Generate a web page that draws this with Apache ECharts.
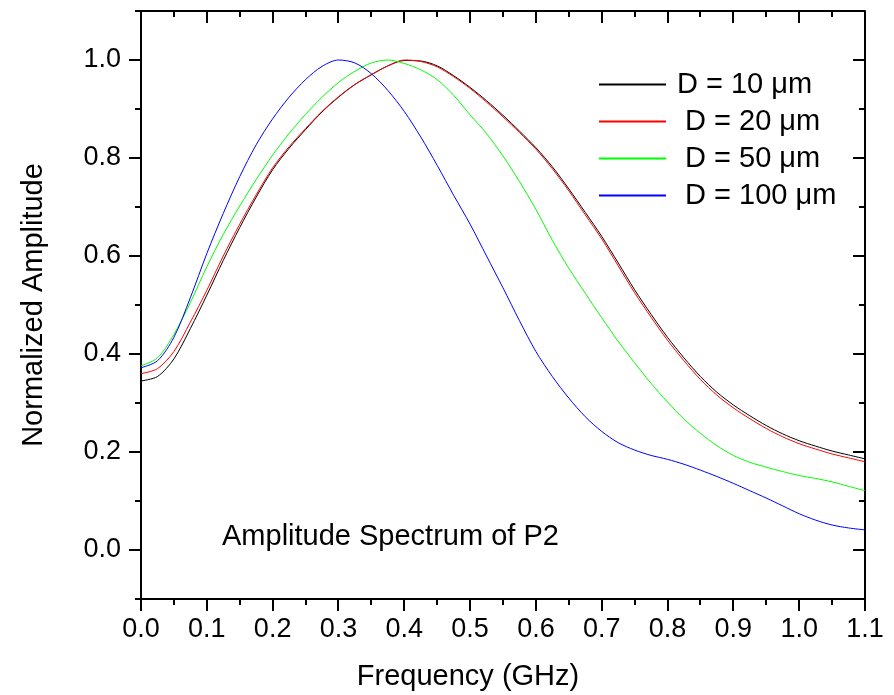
<!DOCTYPE html>
<html>
<head>
<meta charset="utf-8">
<script src="https://cdn.jsdelivr.net/npm/echarts@6/dist/echarts.min.js"></script>
<style>
html, body { margin: 0; padding: 0; background: #fff; }
#main { width: 894px; height: 695px; }
</style>
</head>
<body>
<div id="main"></div>
<script>
// frequency (GHz) and normalized amplitude
var freq = [0, 0.025, 0.05, 0.075, 0.1, 0.125, 0.15, 0.175, 0.2, 0.225, 0.25, 0.275, 0.3, 0.325, 0.35, 0.375,
    0.4, 0.425, 0.45, 0.475, 0.5, 0.525, 0.55, 0.575, 0.6, 0.625, 0.65, 0.675, 0.7, 0.725, 0.75, 0.775,
    0.8, 0.825, 0.85, 0.875, 0.9, 0.925, 0.95, 0.975, 1.0, 1.025, 1.05, 1.075, 1.1];
var d10 = [0.345, 0.354, 0.390, 0.452, 0.520, 0.591, 0.658, 0.720, 0.776, 0.820, 0.858, 0.894, 0.924, 0.950, 0.970, 0.988,
    0.999, 0.998, 0.988, 0.968, 0.944, 0.917, 0.887, 0.855, 0.821, 0.782, 0.737, 0.689, 0.640, 0.586, 0.531, 0.481,
    0.434, 0.392, 0.354, 0.322, 0.296, 0.274, 0.254, 0.237, 0.223, 0.212, 0.202, 0.194, 0.186];
var d20 = [0.360, 0.370, 0.405, 0.465, 0.530, 0.600, 0.665, 0.725, 0.780, 0.823, 0.860, 0.895, 0.925, 0.950, 0.970, 0.988,
    1.000, 0.997, 0.986, 0.966, 0.942, 0.914, 0.884, 0.852, 0.818, 0.778, 0.733, 0.684, 0.635, 0.580, 0.525, 0.475,
    0.428, 0.386, 0.348, 0.316, 0.290, 0.268, 0.248, 0.231, 0.217, 0.206, 0.196, 0.188, 0.180];
var d50 = [0.376, 0.392, 0.440, 0.505, 0.578, 0.644, 0.702, 0.756, 0.806, 0.850, 0.889, 0.924, 0.954, 0.977, 0.994, 1.000,
    0.993, 0.980, 0.960, 0.928, 0.888, 0.850, 0.804, 0.752, 0.695, 0.632, 0.575, 0.524, 0.474, 0.426, 0.382, 0.340,
    0.302, 0.267, 0.238, 0.213, 0.193, 0.179, 0.169, 0.160, 0.152, 0.146, 0.139, 0.130, 0.121];
var d100 = [0.372, 0.386, 0.434, 0.515, 0.605, 0.687, 0.762, 0.827, 0.880, 0.924, 0.960, 0.987, 1.000, 0.994, 0.972, 0.938,
    0.895, 0.843, 0.785, 0.724, 0.665, 0.600, 0.535, 0.468, 0.405, 0.354, 0.310, 0.272, 0.242, 0.219, 0.204, 0.193,
    0.185, 0.175, 0.163, 0.150, 0.136, 0.121, 0.106, 0.090, 0.074, 0.061, 0.051, 0.045, 0.041];
var names = ['D = 10 \u03bcm', ' D = 20 \u03bcm', ' D = 50 \u03bcm', ' D = 100 \u03bcm'];
var colors = ['#000000', '#ff0000', '#00ff00', '#0000ff'];
// tick positions
var xMajor = [0, 0.1, 0.2, 0.3, 0.4, 0.5, 0.6, 0.7, 0.8, 0.9, 1.0, 1.1];
var xMinor = [0.05, 0.15, 0.25, 0.35, 0.45, 0.55, 0.65, 0.75, 0.85, 0.95, 1.05];
var yMajor = [0, 0.2, 0.4, 0.6, 0.8, 1.0];
var yMinor = [-0.1, 0.1, 0.3, 0.5, 0.7, 0.9, 1.1];

var font = 'Arial, "Liberation Sans", sans-serif';
var myChart = echarts.init(document.getElementById('main'));

function pairs(vals) {
    return freq.map(function (f, i) { return [f, vals[i]]; });
}
function yAx(pos) {
    return {
        type: 'value', position: pos, min: -0.1, max: 1.1, interval: 0.1,
        axisLine: { show: true, onZero: false, lineStyle: { color: '#000', width: 2 } },
        axisTick: { show: false },
        axisLabel: { show: false },
        splitLine: { show: false }
    };
}

var left = yAx('left');
left.axisLabel = {
    show: true, customValues: yMajor, margin: 20, color: '#000', fontSize: 27, fontFamily: font,
    formatter: function (v) { return v.toFixed(1); }
};
left.name = 'Normalized Amplitude';
left.nameLocation = 'middle';
left.nameGap = 92;
left.nameTextStyle = { color: '#000', fontSize: 29, lineHeight: 30, fontFamily: font };

// frame ticks: outward on bottom/left, inward on top/right, drawn on the axes' own scale
function renderTicks(params, api) {
    var kids = [];
    function seg(p, dx, dy) {
        var x = Math.round(p[0]), y = Math.round(p[1]);
        kids.push({ type: 'line', shape: { x1: x, y1: y, x2: x + dx, y2: y + dy }, style: { stroke: '#000', lineWidth: 2 } });
    }
    xMajor.forEach(function (v) { seg(api.coord([v, -0.1]), 0, 12); seg(api.coord([v, 1.1]), 0, 12); });
    xMinor.forEach(function (v) { seg(api.coord([v, -0.1]), 0, 6); seg(api.coord([v, 1.1]), 0, 6); });
    yMajor.forEach(function (v) { seg(api.coord([0, v]), -12, 0); seg(api.coord([1.1, v]), -12, 0); });
    yMinor.forEach(function (v) { seg(api.coord([0, v]), -6, 0); seg(api.coord([1.1, v]), -6, 0); });
    var a = api.coord([0, 1.1]), b = api.coord([1.1, 1.1]);
    kids.push({ type: 'line', shape: { x1: Math.round(a[0]), y1: Math.round(a[1]), x2: Math.round(b[0]), y2: Math.round(b[1]) },
        style: { stroke: '#000', lineWidth: 2 } });
    return { type: 'group', children: kids };
}

var option = {
    backgroundColor: '#fff',
    animation: false,
    grid: { left: 141, right: 29, top: 11, bottom: 96, containLabel: false, outerBoundsMode: 'none' },
    legend: {
        orient: 'vertical', left: 598, top: 70, padding: 0,
        itemWidth: 67, itemHeight: 14, itemGap: 8, selectedMode: false,
        itemStyle: { color: 'transparent', borderColor: 'transparent', borderWidth: 0 },
        textStyle: { color: '#000', fontSize: 29, lineHeight: 29, fontFamily: font, padding: [0, 0, 0, 6] },
        data: names
    },
    xAxis: [{
        type: 'value', position: 'bottom', min: 0, max: 1.1, interval: 0.1,
        axisLine: { show: true, onZero: false, lineStyle: { color: '#000', width: 2 } },
        axisTick: { show: false },
        axisLabel: {
            margin: 17, color: '#000', fontSize: 27, fontFamily: font,
            formatter: function (v) { return v.toFixed(1); }
        },
        splitLine: { show: false },
        name: 'Frequency (GHz)', nameLocation: 'middle', nameGap: 63,
        nameTextStyle: { color: '#000', fontSize: 29, lineHeight: 30, fontFamily: font, padding: [0, 70, 0, 0] }
    }],
    yAxis: [left, yAx('right')],
    graphic: [{
        type: 'text', x: 222, y: 537,
        style: { text: 'Amplitude Spectrum of P2', fill: '#000', font: '29px ' + font, verticalAlign: 'middle' }
    }],
    series: [d10, d20, d50, d100].map(function (vals, i) {
        return {
            name: names[i], type: 'line', xAxisIndex: 0, yAxisIndex: 0,
            data: pairs(vals), smooth: 0.3, symbol: 'none', showSymbol: false,
            lineStyle: { color: colors[i], width: 1 }, itemStyle: { color: colors[i] }
        };
    }).concat([{
        type: 'custom', name: 'frame', silent: true, clip: false, z: 5,
        xAxisIndex: 0, yAxisIndex: 0, data: [[0, 0]], renderItem: renderTicks
    }])
};
myChart.setOption(option);
</script>
</body>
</html>
